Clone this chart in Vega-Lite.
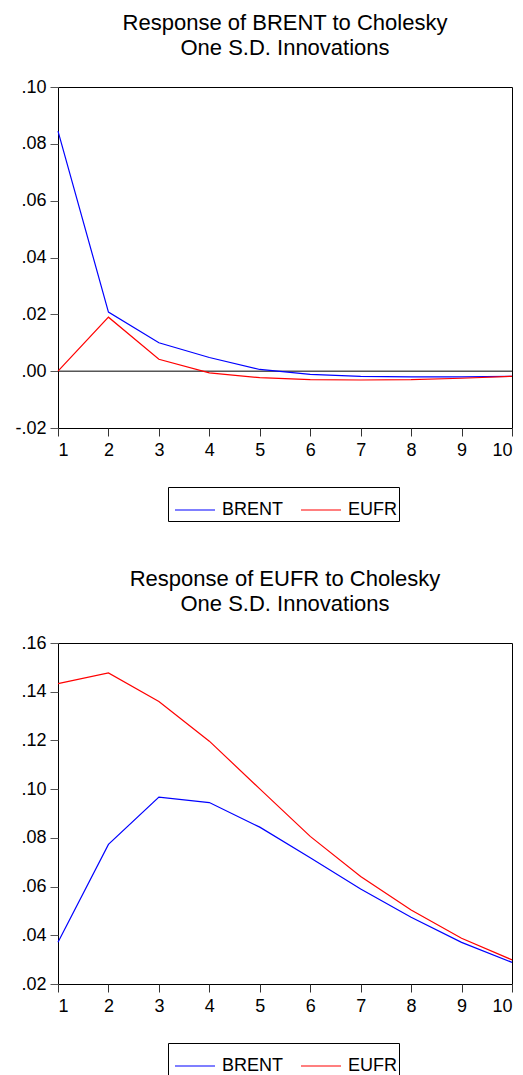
{
  "$schema": "https://vega.github.io/schema/vega-lite/v6.json",
  "background": "white",
  "padding": {"left": 14, "top": 11, "right": 5, "bottom": 5},
  "spacing": 45,
  "config": {
    "font": "Liberation Sans",
    "view": {"stroke": "black", "strokeWidth": 1},
    "axis": {"grid": false, "domain": false, "tickColor": "#555", "tickSize": 8, "labelFontSize": 18, "labelColor": "black", "labelFont": "Liberation Sans", "labelPadding": 4},
    "title": {"fontSize": 22, "fontWeight": "normal", "lineHeight": 25, "anchor": "middle", "color": "black", "offset": 18, "font": "Liberation Sans"},
    "legend": {"orient": "none", "direction": "horizontal", "legendX": 110, "legendY": 400, "strokeColor": "black", "padding": 2, "symbolOffset": 4, "symbolType": "stroke", "symbolSize": 1600, "symbolStrokeWidth": 1.2, "labelFontSize": 18, "labelOffset": 6, "columnPadding": 12, "labelColor": "black", "labelFont": "Liberation Sans"}
  },
  "datasets": {
    "top": [
      {"h": 1, "series": "BRENT", "v": 0.0845},
      {"h": 2, "series": "BRENT", "v": 0.0208},
      {"h": 3, "series": "BRENT", "v": 0.0100},
      {"h": 4, "series": "BRENT", "v": 0.0048},
      {"h": 5, "series": "BRENT", "v": 0.0006},
      {"h": 6, "series": "BRENT", "v": -0.0011},
      {"h": 7, "series": "BRENT", "v": -0.0018},
      {"h": 8, "series": "BRENT", "v": -0.0020},
      {"h": 9, "series": "BRENT", "v": -0.0020},
      {"h": 10, "series": "BRENT", "v": -0.0018},
      {"h": 1, "series": "EUFR", "v": 0.0},
      {"h": 2, "series": "EUFR", "v": 0.0190},
      {"h": 3, "series": "EUFR", "v": 0.0042},
      {"h": 4, "series": "EUFR", "v": -0.0006},
      {"h": 5, "series": "EUFR", "v": -0.0023},
      {"h": 6, "series": "EUFR", "v": -0.0030},
      {"h": 7, "series": "EUFR", "v": -0.0031},
      {"h": 8, "series": "EUFR", "v": -0.0030},
      {"h": 9, "series": "EUFR", "v": -0.0025},
      {"h": 10, "series": "EUFR", "v": -0.0018}
    ],
    "bottom": [
      {"h": 1, "series": "BRENT", "v": 0.0371},
      {"h": 2, "series": "BRENT", "v": 0.0773},
      {"h": 3, "series": "BRENT", "v": 0.0967},
      {"h": 4, "series": "BRENT", "v": 0.0945},
      {"h": 5, "series": "BRENT", "v": 0.0844},
      {"h": 6, "series": "BRENT", "v": 0.0718},
      {"h": 7, "series": "BRENT", "v": 0.0590},
      {"h": 8, "series": "BRENT", "v": 0.0474},
      {"h": 9, "series": "BRENT", "v": 0.0371},
      {"h": 10, "series": "BRENT", "v": 0.0289},
      {"h": 1, "series": "EUFR", "v": 0.1433},
      {"h": 2, "series": "EUFR", "v": 0.1477},
      {"h": 3, "series": "EUFR", "v": 0.1360},
      {"h": 4, "series": "EUFR", "v": 0.1197},
      {"h": 5, "series": "EUFR", "v": 0.1001},
      {"h": 6, "series": "EUFR", "v": 0.0806},
      {"h": 7, "series": "EUFR", "v": 0.0641},
      {"h": 8, "series": "EUFR", "v": 0.0504},
      {"h": 9, "series": "EUFR", "v": 0.0388},
      {"h": 10, "series": "EUFR", "v": 0.0299}
    ],
    "zero": [{"v": 0}]
  },
  "resolve": {"scale": {"color": "independent"}, "legend": {"color": "independent"}},
  "vconcat": [
    {
      "width": 454,
      "height": 341,
      "title": {"text": ["Response of BRENT to Cholesky", "One S.D. Innovations"]},
      "layer": [
        {
          "data": {"name": "zero"},
          "mark": {"type": "rule", "color": "black", "strokeWidth": 1},
          "encoding": {
            "y": {"field": "v", "type": "quantitative", "scale": {"domain": [-0.02, 0.1], "nice": false, "zero": false}}
          }
        },
        {
          "data": {"name": "top"},
          "mark": {"type": "line", "strokeWidth": 1.2},
          "encoding": {
            "x": {"field": "h", "type": "quantitative", "title": null, "scale": {"domain": [1, 10], "nice": false, "zero": false}, "axis": {"values": [1, 2, 3, 4, 5, 6, 7, 8, 9, 10], "labelPadding": 5, "tickColor": "#333"}},
            "y": {"field": "v", "type": "quantitative", "title": null, "scale": {"domain": [-0.02, 0.1], "nice": false, "zero": false}, "axis": {"values": [-0.02, 0, 0.02, 0.04, 0.06, 0.08, 0.1], "labelExpr": "replace(replace(format(datum.value, '.2f'), '0.', '.'), '\u2212', '-')"}},
            "color": {"field": "series", "type": "nominal", "scale": {"domain": ["BRENT", "EUFR"], "range": ["#0000FF", "#FF0000"]}, "legend": {"title": null}}
          }
        }
      ]
    },
    {
      "width": 454,
      "height": 341,
      "title": {"text": ["Response of EUFR to Cholesky", "One S.D. Innovations"]},
      "data": {"name": "bottom"},
      "mark": {"type": "line", "strokeWidth": 1.2},
      "encoding": {
        "x": {"field": "h", "type": "quantitative", "title": null, "scale": {"domain": [1, 10], "nice": false, "zero": false}, "axis": {"values": [1, 2, 3, 4, 5, 6, 7, 8, 9, 10], "labelPadding": 5, "tickColor": "#333"}},
        "y": {"field": "v", "type": "quantitative", "title": null, "scale": {"domain": [0.02, 0.16], "nice": false, "zero": false}, "axis": {"values": [0.02, 0.04, 0.06, 0.08, 0.1, 0.12, 0.14, 0.16], "labelExpr": "replace(format(datum.value, '.2f'), '0.', '.')"}},
        "color": {"field": "series", "type": "nominal", "scale": {"domain": ["BRENT", "EUFR"], "range": ["#0000FF", "#FF0000"]}, "legend": {"title": null}}
      }
    }
  ]
}
